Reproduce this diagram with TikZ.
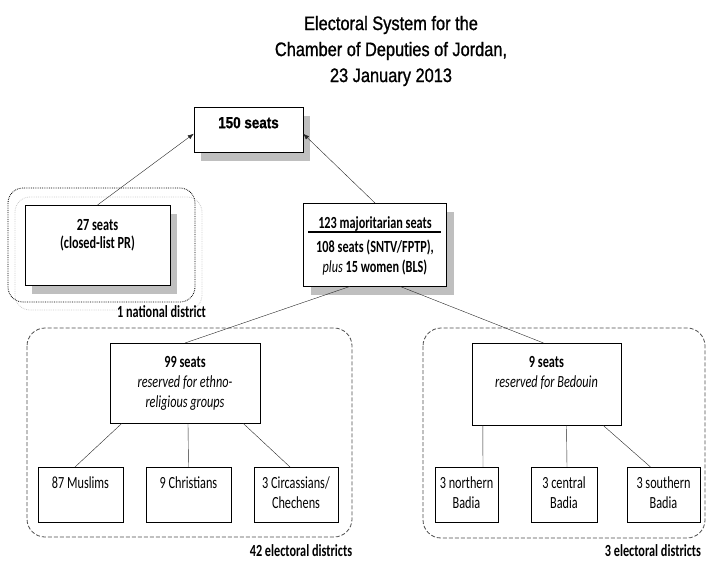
\documentclass[tikz,border=0pt]{standalone}
\usepackage{fontspec}
\setmainfont{Carlito}[FakeStretch=0.72]
\newfontfamily\narrowfont{Liberation Sans}[FakeStretch=0.84,FakeBold=1]
\usetikzlibrary{arrows.meta,shadows}

\tikzset{
    seatbox/.style={draw, fill=white, anchor=north, align=center,
        inner xsep=2pt, inner ysep=0pt, font=\fontsize{17}{20}\selectfont},
    shadowed/.style={drop shadow={shadow xshift=7pt, shadow yshift=-9pt,
        fill=gray!50, opacity=1}},
    link/.style={draw=black!85},
    group/.style={draw=black!70, line width=0.8pt, dash pattern=on 4pt off 2pt,
        rounded corners=18pt},
    district/.style={font=\fontsize{17}{20}\selectfont\bfseries}
}

\begin{document}
\begin{tikzpicture}[x=1pt,y=-1pt]
    \useasboundingbox (0,0) rectangle (707,560);

    \node[font=\narrowfont\fontsize{19.5}{26}\selectfont, align=center] (title)
        at (391,51) {Electoral System for the\\Chamber of Deputies of Jordan,\\23 January 2013};

    % district groups
    \draw[densely dotted, thick, draw=gray!40, rounded corners=15pt]
        (15,197) rectangle (202,310);
    \draw[densely dotted, thick, rounded corners=15pt]
        (8,188) rectangle (195,302);
    \draw[group] (27,328) rectangle (352,537);
    \draw[group] (423,328) rectangle (705,538);

    % top level
    \node[seatbox, shadowed, minimum width=109pt, text height=21pt, text depth=24pt,
        font=\narrowfont\fontsize{16}{20}\selectfont]
        (s150) at (248.5,107) {\textbf{150 seats}};
    \node[seatbox, shadowed, minimum width=145pt, text height=43pt, text depth=37pt]
        (pr) at (97.5,205) {\textbf{27 seats}\\[-2pt]\textbf{(closed-list PR)}};
    \node[seatbox, shadowed, minimum width=143pt, text height=69pt, text depth=14pt]
        (maj) at (375,203) {\textbf{123 majoritarian seats}\\[4pt]
        \textbf{108 seats (SNTV/FPTP),}\\\textit{plus} \textbf{15 women (BLS)}};
    \draw[line width=1.6pt]
        ([xshift=5pt,yshift=-29pt]maj.north west) -- ([xshift=-6pt,yshift=-29pt]maj.north east);

    % reserved seats
    \node[seatbox, minimum width=150pt, text height=64pt, text depth=16pt]
        (eth) at (185,343) {\textbf{99 seats}\\\textit{reserved for ethno-}\\\textit{religious groups}};
    \node[seatbox, minimum width=149pt, text height=44pt, text depth=38pt]
        (bed) at (546.5,343) {\textbf{9 seats}\\\textit{reserved for Bedouin}};

    % bottom row
    \node[seatbox, minimum width=85pt, text height=21pt, text depth=34pt]
        (mus) at (80.5,467) {87 Muslims};
    \node[seatbox, minimum width=85pt, text height=21pt, text depth=34pt]
        (chr) at (188.5,467) {9 Christians};
    \node[seatbox, minimum width=84pt, text height=41pt, text depth=14pt]
        (cir) at (296,467) {3 Circassians/\\Chechens};
    \node[seatbox, minimum width=63pt, text height=41pt, text depth=14pt]
        (nor) at (466.5,467) {3 northern\\Badia};
    \node[seatbox, minimum width=66pt, text height=41pt, text depth=14pt]
        (cen) at (564,467) {3 central\\Badia};
    \node[seatbox, minimum width=73pt, text height=41pt, text depth=14pt]
        (sou) at (663.5,467) {3 southern\\Badia};

    \node[district] (nat) at (161.5,312) {1 national district};
    \node[district] (d42) at (301,551) {42 electoral districts};
    \node[district] (d3) at (653,551) {3 electoral districts};

    % connectors
    \draw[link, -{Latex[length=6pt,width=4.5pt]}] (pr.north) -- ([yshift=-4pt]s150.west);
    \draw[link, -{Latex[length=6pt,width=4.5pt]}] (maj.north) -- ([yshift=-4pt]s150.east);
    \draw[link] ([xshift=-25pt]maj.south) -- (eth.north);
    \draw[link] ([xshift=25pt]maj.south) -- ([xshift=-3pt]bed.north);

    \draw[link] ([xshift=12pt]eth.south west) -- ([xshift=-5.5pt]mus.north);
    \draw[link] ([xshift=3pt]eth.south) -- (chr.north);
    \draw[link] ([xshift=-17pt]eth.south east) -- ([xshift=-6pt]cir.north);
    \draw[link] ([xshift=11pt]bed.south west) -- ([xshift=16.5pt]nor.north);
    \draw[link] ([xshift=20pt]bed.south) -- ([xshift=3pt]cen.north);
    \draw[link] ([xshift=-18pt]bed.south east) -- ([xshift=-13pt]sou.north);
\end{tikzpicture}
\end{document}
